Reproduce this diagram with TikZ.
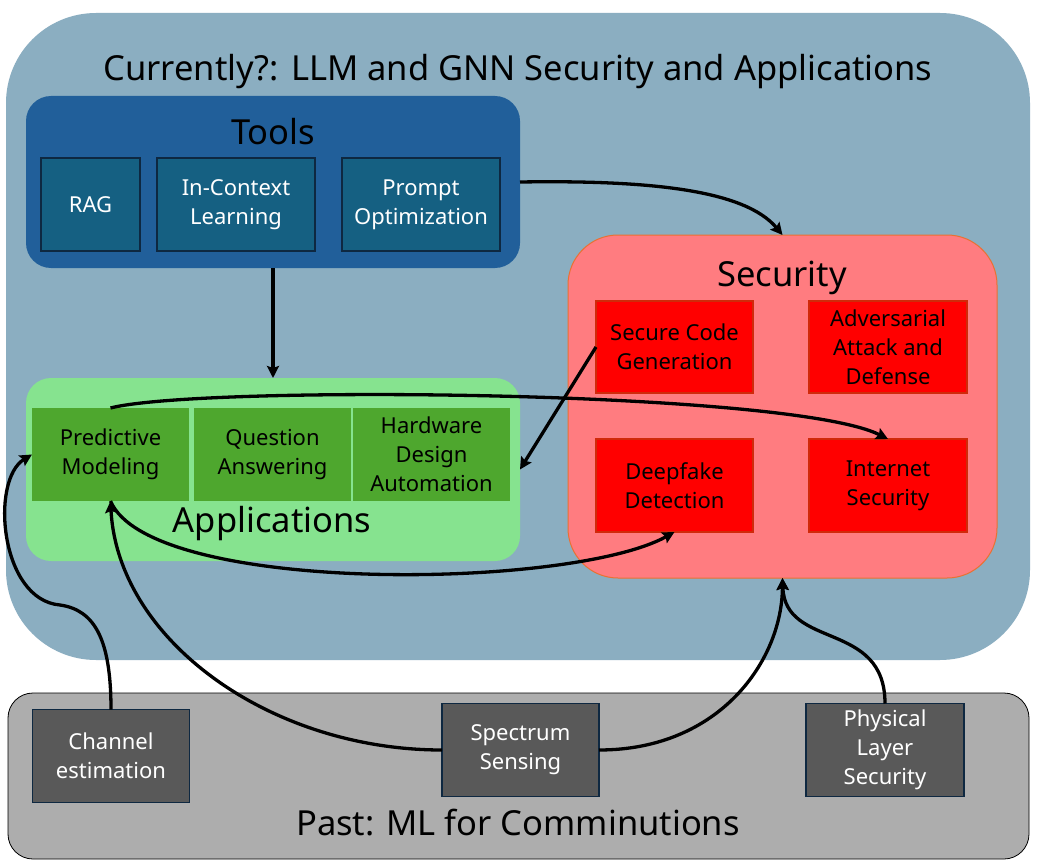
\documentclass[tikz,border=0pt]{standalone}
\usepackage{fontspec}
\setmainfont{Noto Sans}
\usetikzlibrary{arrows.meta}
\definecolor{outerblue}{HTML}{8BAEC1}
\definecolor{toolsblue}{HTML}{215F9A}
\definecolor{toolinner}{HTML}{156082}
\definecolor{darkborder}{HTML}{0E2841}
\definecolor{secbg}{HTML}{FF7C80}
\definecolor{secborder}{HTML}{E97132}
\definecolor{secinner}{HTML}{FF0000}
\definecolor{secinnerborder}{HTML}{D02A0A}
\definecolor{appbg}{HTML}{86E38F}
\definecolor{appinner}{HTML}{4EA72E}
\definecolor{graybg}{HTML}{ADADAD}
\definecolor{grayinner}{HTML}{595959}
\begin{document}
\begin{tikzpicture}[x=1pt,y=-1pt,
  every node/.style={inner sep=0pt,outer sep=0pt},
  group/.style={rectangle,rounded corners=#1},
  item/.style={rectangle,align=center,font=\fontsize{22}{29}\selectfont},
  bigtitle/.style={font=\fontsize{34.5}{40}\selectfont},
  conn/.style={line width=3.3pt,-{Stealth[length=12pt,width=12pt,inset=2pt]}},
]
\useasboundingbox[fill=white] (0,0) rectangle (1037,864);

% outer groups
\node[group=90pt,fill=outerblue,minimum width=1024pt,minimum height=647pt] (outer) at (518,336.5) {};
\node[group=25pt,fill=graybg,draw=black,line width=0.8pt,minimum width=1021pt,minimum height=166pt] (past) at (518.5,776) {};

\node[bigtitle] (ttl) at (518,72) {Currently?: LLM and GNN Security and Applications};

% Tools
\node[group=25pt,fill=toolsblue,minimum width=494pt,minimum height=172pt] (tools) at (273,182) {};
\node[bigtitle] (toolsttl) at (273,132) {Tools};
\node[item,fill=toolinner,draw=darkborder,line width=1.5pt,text=white,minimum width=99pt,minimum height=93pt] (rag) at (90.5,204.5) {RAG};
\node[item,fill=toolinner,draw=darkborder,line width=1.5pt,text=white,minimum width=158pt,minimum height=93pt] (icl) at (236,204.5) {In-Context\\Learning};
\node[item,fill=toolinner,draw=darkborder,line width=1.5pt,text=white,minimum width=158pt,minimum height=93pt] (po) at (421,204.5) {Prompt\\Optimization};

% Security
\node[group=50pt,fill=secbg,draw=secborder,line width=1pt,minimum width=429pt,minimum height=343pt] (security) at (782.5,406.5) {};
\node[bigtitle] (secttl) at (782,278) {Security};
\node[item,fill=secinner,draw=secinnerborder,line width=1.5pt,minimum width=157pt,minimum height=92pt] (scg) at (674.5,347) {Secure Code\\Generation};
\node[item,fill=secinner,draw=secinnerborder,line width=1.5pt,minimum width=158pt,minimum height=92pt] (aad) at (888,347) {Adversarial\\Attack and\\Defense};
\node[item,fill=secinner,draw=secinnerborder,line width=1.5pt,minimum width=157pt,minimum height=93pt] (dd) at (674.5,485.5) {Deepfake\\Detection};
\node[item,fill=secinner,draw=secinnerborder,line width=1.5pt,minimum width=158pt,minimum height=93pt] (is) at (888,485.5) {Internet\\Security};

% Applications
\node[group=25pt,fill=appbg,minimum width=494pt,minimum height=183pt] (apps) at (273,469.5) {};
\node[bigtitle] (appsttl) at (272,524) {Applications};
\node[item,fill=appinner,minimum width=157pt,minimum height=93pt] (pm) at (110.5,454.5) {Predictive\\Modeling};
\node[item,fill=appinner,minimum width=157pt,minimum height=93pt] (qa) at (272.5,454.5) {Question\\Answering};
\node[item,fill=appinner,minimum width=157pt,minimum height=93pt] (hda) at (431.5,454.5) {Hardware\\Design\\Automation};

% Past
\node[bigtitle] (pastttl) at (518,823) {Past: ML for Comminutions};
\node[item,fill=grayinner,draw=darkborder,line width=1.5pt,text=white,minimum width=157pt,minimum height=93pt] (ce) at (111,756) {Channel\\estimation};
\node[item,fill=grayinner,draw=darkborder,line width=1.5pt,text=white,minimum width=157pt,minimum height=93pt] (ss) at (520.5,750) {Spectrum\\Sensing};
\node[item,fill=grayinner,draw=darkborder,line width=1.5pt,text=white,minimum width=158pt,minimum height=93pt] (pls) at (885,750) {Physical\\Layer\\Security};

% connectors
\draw[conn] (tools.east) .. controls (650,180) and (745,190) .. (security.north);
\draw[conn] (tools.south) -- (apps.north);
\draw[conn] (scg.west) -- (apps.east);
\draw[conn] (pm.north) .. controls (200,385) and (790,390) .. (is.north);
\draw[conn] (pm.south) .. controls (150,595) and (570,590) .. (dd.south);
\draw[conn] (ce.north) .. controls (111,640) and (95,610) .. (60,605) .. controls (0,600) and (-10,480) .. (pm.west);
\draw[conn] (ss.west) .. controls (270,750) and (118,640) .. (pm.south);
\draw[conn] (ss.east) .. controls (720,750) and (782,660) .. (security.south);
\draw[conn] (pls.north) .. controls (885,620) and (785,650) .. (security.south);
\end{tikzpicture}
\end{document}
